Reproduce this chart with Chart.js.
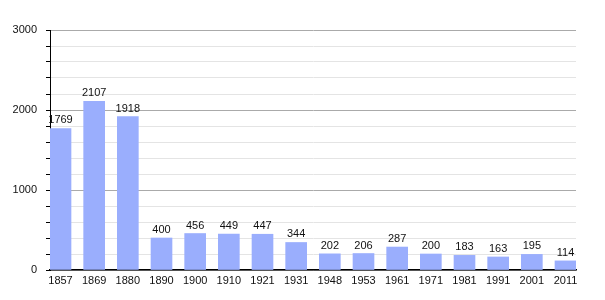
<!DOCTYPE html>
<html>
<head>
<meta charset="utf-8">
<script src="https://cdn.jsdelivr.net/npm/chart.js@4"></script>
<style>
  html, body { margin: 0; padding: 0; background: #fff; }
  #wrap { width: 605px; height: 300px; }
</style>
</head>
<body>
<div id="wrap"><canvas id="chart" width="605" height="300"></canvas></div>
<script>
// population by census year
const years = ['1857', '1869', '1880', '1890', '1900', '1910', '1921', '1931', '1948', '1953', '1961', '1971', '1981', '1991', '2001', '2011']
const population = [1769, 2107, 1918, 400, 456, 449, 447, 344, 202, 206, 287, 200, 183, 163, 195, 114]
const yTicksLabelled = [0, 1000, 2000, 3000]

const FONT = { family: "'Liberation Sans', Arial, sans-serif", size: 11 }

// draw the number above each bar
const valueLabels = {
  id: 'valueLabels',
  afterDatasetsDraw(chart) {
    const ctx = chart.ctx
    const meta = chart.getDatasetMeta(0)
    ctx.save()
    ctx.font = FONT.size + 'px ' + FONT.family
    ctx.fillStyle = '#111'
    ctx.textAlign = 'center'
    ctx.textBaseline = 'alphabetic'
    meta.data.forEach((bar, i) => {
      ctx.fillText(String(population[i]), bar.x, bar.y - 5)
    })
    ctx.restore()
  }
}

new Chart(document.getElementById('chart'), {
  type: 'bar',
  data: {
    datasets: [{
      data: population.map((v, i) => ({ x: i, y: v })),
      backgroundColor: '#9aaefd',
      borderWidth: 0,
      barThickness: 21
    }]
  },
  options: {
    responsive: false,
    animation: false,
    layout: { padding: { top: 30, right: 29, left: 0, bottom: 0 } },
    plugins: { legend: { display: false }, tooltip: { enabled: false } },
    scales: {
      x: {
        type: 'linear',
        offset: false,
        min: -0.312,
        max: 15.312,
        afterBuildTicks: scale => { scale.ticks = years.map((_, i) => ({ value: i })) },
        afterFit: scale => { scale.height = 30 },
        grid: { display: false, drawTicks: false, offset: false },
        border: { display: true, color: '#000', width: 1.5 },
        ticks: {
          autoSkip: false,
          maxRotation: 0,
          padding: 4,
          color: '#111',
          font: FONT,
          callback: v => years[v] ?? ''
        }
      },
      y: {
        min: 0,
        max: 3000,
        afterBuildTicks: scale => {
          const t = []
          for (let v = 0; v <= 3000; v += 200) t.push({ value: v })
          scale.ticks = t
        },
        afterFit: scale => { scale.width = 50 },
        grid: {
          color: ctx => (ctx.tick && ctx.tick.value % 1000 === 0) ? '#aaaaaa' : '#e4e4e4',
          tickColor: '#000',
          tickLength: 4
        },
        border: { display: true, color: '#000', width: 1 },
        ticks: {
          autoSkip: false,
          padding: 9,
          color: '#111',
          font: FONT,
          callback: v => yTicksLabelled.includes(v) ? String(v) : ''
        }
      }
    }
  },
  plugins: [valueLabels]
})
</script>
</body>
</html>
